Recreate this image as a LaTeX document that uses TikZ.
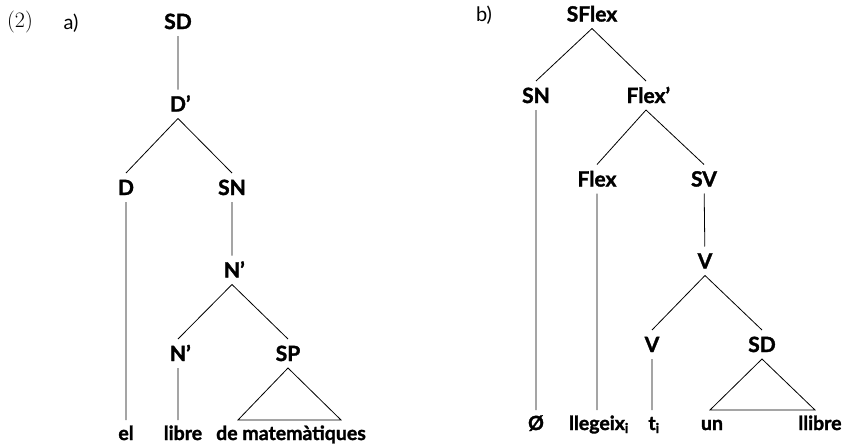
\documentclass[tikz,border=0pt]{standalone}
\usepackage{fontspec}
\setsansfont{Lato}[BoldFeatures={FakeBold=1.6}]
\usetikzlibrary{positioning,calc}

\begin{document}
\begin{tikzpicture}[x=1pt,y=-1pt,line width=0.8pt,
	cat/.style={font=\sffamily\bfseries\fontsize{21}{24}\selectfont,text height=15pt,text depth=0pt,inner xsep=2pt,inner ysep=7pt,outer sep=0pt},
	leaf/.style={font=\sffamily\bfseries\fontsize{19.5}{22}\selectfont,anchor=base,text height=14pt,text depth=0pt,inner xsep=1pt,inner ysep=6pt,outer sep=0pt},
	tag/.style={font=\sffamily\fontsize{20}{22}\selectfont,text height=14pt,text depth=0pt,inner sep=0pt}]
	\useasboundingbox (0,0) rectangle (847,447);
	% (a)
	\node[font=\fontsize{22}{24}\selectfont,inner sep=0pt] (ex) at (20,22) {(2)};
	\node[tag] (la) at (71,22) {a)};
	\node[cat] (sda)  at (178,21.5) {SD};
	\node[cat] (dbar) at (178,104)  {D\rlap{’}};
	\node[cat] (d)    at (126,187.5){D};
	\node[cat] (sna)  at (232,187.5){SN};
	\node[cat] (nbar) at (232,270)  {N\rlap{’}};
	\node[cat] (nbr)  at (178,353.5){N\rlap{’}};
	\node[cat] (sp)   at (288,353.5){SP};
	\node[leaf] (el)   at (126,440) {el};
	\node[leaf] (lib)  at (183,440) {libre};
	\node[leaf] (mat)  at (291,440) {de matemàtiques};
	\coordinate (spl) at ($(mat.north)+(-53,0)$);
	\coordinate (spr) at ($(mat.north)+(50,0)$);
	\path[draw]
		(sda) -- (dbar)
		(dbar.south) -- (d.north) (dbar.south) -- (sna.north)
		(d) -- (el)
		(sna) -- (nbar)
		(nbar.south) -- (nbr.north) (nbar.south) -- (sp.north)
		(nbr.south) -- (nbr.south |- lib.north)
		(sp.south) -- (spl) -- (spr) -- cycle
	; %-path-%
	% (b)
	\node[tag] (lb) at (484,14) {b)};
	\node[cat] (sfl)  at (592,14)   {SFlex};
	\node[cat] (snb)  at (536,95.5) {SN};
	\node[cat] (flbar) at (646,95.5) {Flex\rlap{’}};
	\node[cat] (fl)   at (597,179)  {Flex};
	\node[cat] (sv)   at (704,179)  {SV};
	\node[cat] (vbar) at (705,261)  {V};
	\node[cat] (v)    at (652,344.5){V};
	\node[cat] (sdb)  at (762,344.5){SD};
	\node[leaf] (nul)  at (536,430) {Ø};
	\node[leaf] (lleg) at (599,430) {llegeix\textsubscript{i}};
	\node[leaf] (ti)   at (654,430) {t\textsubscript{i}};
	\node[leaf] (un)   at (712,430) {un};
	\node[leaf] (llib) at (820,430) {llibre};
	\coordinate (sdl) at (un.north -| 710,0);
	\coordinate (sdr) at (un.north -| 815,0);
	\path[draw]
		(sfl.south) -- (snb.north) (sfl.south) -- (flbar.north)
		(snb) -- (snb |- nul.north)
		(flbar.south) -- (fl.north) (flbar.south) -- (sv.north)
		(fl) -- (fl |- lleg.north)
		(sv) -- (vbar)
		(vbar.south) -- (v.north) (vbar.south) -- (sdb.north)
		(v) -- (v |- ti.north)
		(sdb.south) -- (sdl) -- (sdr) -- cycle
	; %-path-%
\end{tikzpicture}
\end{document}
